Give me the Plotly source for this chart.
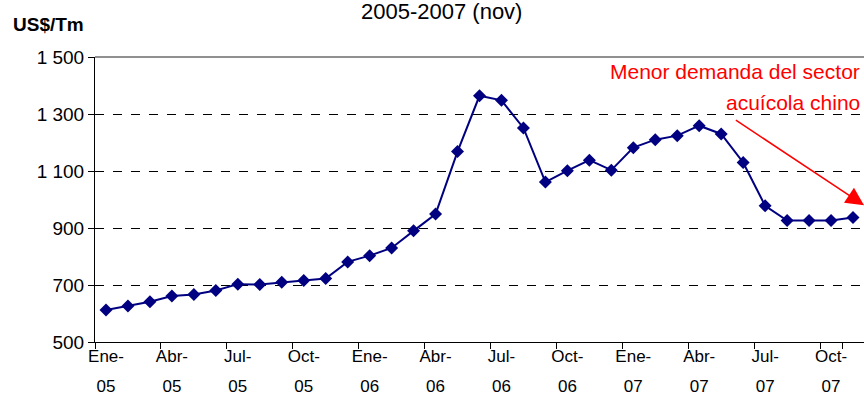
import plotly.graph_objects as go

months = ["Ene", "Feb", "Mar", "Abr", "May", "Jun", "Jul", "Ago", "Sep", "Oct", "Nov", "Dic"]
years = ["05", "06", "07"]
categories = [f"{m}-{y}" for y in years for m in months][:35]  # Ene-05 .. Nov-07

prices = [612, 626, 641, 661, 667, 681, 703, 702, 710, 716, 723, 781,
          803, 830, 890, 949, 1168, 1364, 1348, 1251, 1061, 1101, 1138, 1103,
          1182, 1210, 1224, 1259, 1230, 1130, 978, 926, 926, 926, 937]

tick_cats = categories[::3]
tick_text = ["<span style='font-size:17px'>%s-</span><br><span style='font-size:17px'>%s</span>"
             % tuple(c.split("-")) for c in tick_cats]
y_ticks = [500, 700, 900, 1100, 1300, 1500]

title_text = "2005-2007 (nov)"
y_title = "US$/Tm"
note_line1 = "Menor demanda del sector"
note_line2 = "acuícola chino"

# plot-area pixel geometry (for converting figure positions to paper coords)
L, R, T, B = 95, 864, 57, 342
def px(x):
    return (x - L) / (R - L)
def py(y):
    return (B - y) / (B - T)

fig = go.Figure()
fig.add_trace(go.Scatter(
    x=categories, y=prices, mode="lines+markers",
    line=dict(color="#000080", width=2),
    marker=dict(symbol="diamond", size=10, color="#000080"),
    showlegend=False, cliponaxis=False,
))

fig.update_layout(
    width=864, height=410,
    margin=dict(l=L, r=864 - R, t=T, b=410 - B),
    paper_bgcolor="white", plot_bgcolor="white",
    font=dict(family="Liberation Sans, Arial", color="black"),
    separators=", ",
    xaxis=dict(
        type="category", categoryorder="array", categoryarray=categories,
        range=[-0.5, 34.5],
        tickmode="array", tickvals=tick_cats, ticktext=tick_text,
        tickson="boundaries",
        ticks="outside", ticklen=6, tickcolor="black", tickwidth=1,
        showline=True, linecolor="black", linewidth=1,
        showgrid=False, zeroline=False,
        tickfont=dict(size=23),
        ticklabelstandoff=-9,
        tickangle=0,
    ),
    yaxis=dict(
        range=[500, 1500],
        tickmode="array", tickvals=y_ticks, tickformat=",d",
        ticks="outside", ticklen=6, tickcolor="black", tickwidth=1,
        showline=True, linecolor="black", linewidth=1,
        showgrid=True, gridcolor="black", gridwidth=1, griddash="dash",
        zeroline=False,
        tickfont=dict(size=19),
    ),
    shapes=[dict(type="line", xref="paper", yref="paper", x0=0, x1=1, y0=1, y1=1,
                 line=dict(color="#909090", width=2))],
    annotations=[
        dict(text=title_text, xref="paper", yref="paper", x=px(441), y=py(12), yanchor="middle",
             xanchor="center", showarrow=False, font=dict(size=22)),
        dict(text=f"<b>{y_title}</b>", xref="paper", yref="paper", x=px(11), y=py(24),
             xanchor="left", yanchor="middle", showarrow=False, font=dict(size=19)),
        dict(text=note_line1, xref="paper", yref="paper", x=px(862), y=py(71),
             xanchor="right", yanchor="middle", showarrow=False, font=dict(size=21, color="red")),
        dict(text=note_line2, xref="paper", yref="paper", x=px(862), y=py(102),
             xanchor="right", yanchor="middle", showarrow=False, font=dict(size=21, color="red")),
        dict(text="", x=34.5, y=980, xref="x", yref="y",
             ax=28.6, ay=1282, axref="x", ayref="y",
             showarrow=True, arrowhead=2, arrowsize=2.4, arrowwidth=1.5, arrowcolor="red"),
    ],
)

fig.write_html("out.html", config={"displayModeBar": False},
               post_script="document.body.style.margin='0';")
